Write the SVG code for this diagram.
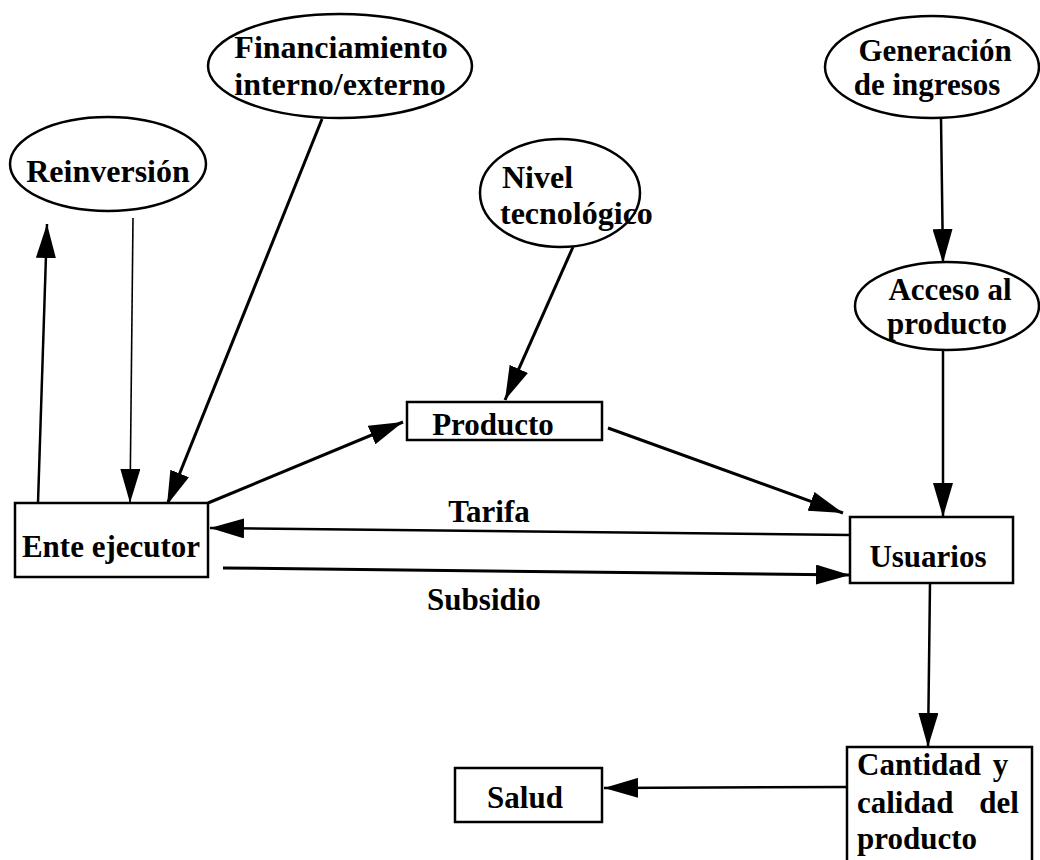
<svg xmlns="http://www.w3.org/2000/svg" width="1040" height="860" viewBox="0 0 1040 860">
<defs>
<style>
.n{fill:#fff;stroke:#000;stroke-width:2.5}
.t{font-family:"Liberation Serif","Times New Roman",serif;font-weight:bold;font-size:31px;fill:#000;text-anchor:middle}
.e{font-size:32px}
.s{text-anchor:start}
.c{fill:none;stroke:#000;stroke-width:2.5;marker-end:url(#ah)}
.thin{stroke-width:1.6}
.thick{stroke-width:3}
</style>
<marker id="ah" markerUnits="userSpaceOnUse" markerWidth="34" markerHeight="20" refX="34" refY="10" orient="auto" viewBox="0 0 34 20">
<path d="M0,0 L34,10 L0,20 z" fill="#000"/>
</marker>
</defs>
<rect width="1040" height="860" fill="#fff"/>

<g id="connectors">
<line class="c" x1="38" y1="503" x2="47" y2="224"/>
<line class="c thin" x1="133" y1="218" x2="130" y2="503"/>
<line class="c thick" x1="322" y1="119" x2="167" y2="505"/>
<line class="c thick" x1="208" y1="503" x2="403" y2="422"/>
<line class="c thick" x1="573" y1="247" x2="505" y2="400"/>
<line class="c thick" x1="608" y1="428" x2="843" y2="513"/>
<line class="c" x1="941" y1="118" x2="943" y2="263"/>
<line class="c" x1="943" y1="350" x2="943" y2="517"/>
<line class="c" x1="850" y1="535" x2="210" y2="528"/>
<line class="c thick" x1="223" y1="568" x2="850" y2="575"/>
<line class="c" x1="930" y1="583" x2="928" y2="747"/>
<line class="c" x1="847" y1="787" x2="604" y2="788"/>
</g>

<g id="reinversion">
<ellipse class="n" cx="108" cy="164" rx="98" ry="47"/>
<text class="t e" x="108" y="182">Reinversión</text>
</g>
<g id="financiamiento">
<ellipse class="n" cx="340" cy="66" rx="132" ry="52"/>
<text class="t e" x="341" y="58">Financiamiento</text>
<text class="t e" x="340" y="95">interno/externo</text>
</g>
<g id="nivel">
<ellipse class="n" cx="560" cy="193" rx="80" ry="54"/>
<text class="t e s" x="502" y="188">Nivel</text>
<text class="t e s" x="500" y="224">tecnológico</text>
</g>
<g id="generacion">
<ellipse class="n" cx="932" cy="67" rx="107" ry="51"/>
<text class="t" x="935" y="61">Generación</text>
<text class="t" x="927" y="95">de ingresos</text>
</g>
<g id="acceso">
<ellipse class="n" cx="947" cy="306" rx="92" ry="44"/>
<text class="t" x="950" y="300">Acceso al</text>
<text class="t" x="947" y="334">producto</text>
</g>
<g id="producto">
<rect class="n" x="407" y="402" width="195" height="38"/>
<text class="t" x="493" y="435">Producto</text>
</g>
<g id="ente">
<rect class="n" x="15" y="503" width="193" height="74"/>
<text class="t" x="111" y="557">Ente ejecutor</text>
</g>
<g id="usuarios">
<rect class="n" x="850" y="517" width="163" height="66"/>
<text class="t" x="928" y="567">Usuarios</text>
</g>
<g id="cantidad">
<rect class="n" x="847" y="747" width="185" height="130"/>
<text class="t s" x="857" y="775" word-spacing="4">Cantidad y</text>
<text class="t s" x="857" y="813" word-spacing="18">calidad del</text>
<text class="t s" x="857" y="849">producto</text>
</g>
<g id="salud">
<rect class="n" x="455" y="768" width="147" height="54"/>
<text class="t" x="525" y="808">Salud</text>
</g>
<g id="labels">
<text class="t" x="489" y="522">Tarifa</text>
<text class="t" x="484" y="610">Subsidio</text>
</g>
</svg>
